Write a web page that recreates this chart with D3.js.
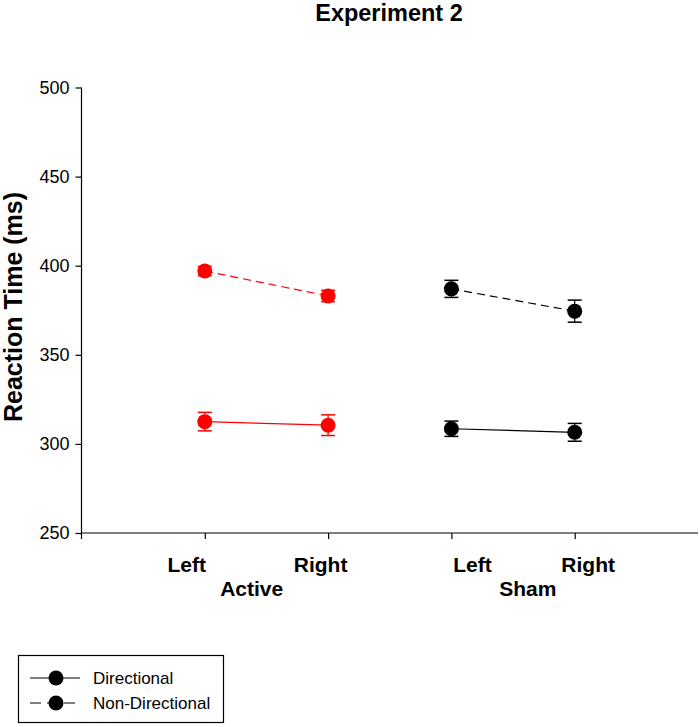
<!DOCTYPE html>
<html><head><meta charset="utf-8">
<script src="https://cdn.jsdelivr.net/npm/d3@7"></script>
<style>body{margin:0;background:#fff}</style>
</head><body>
<svg id="chart" width="700" height="727"></svg>
<script>
const conditions = ["Left", "Right", "Left", "Right"];
const groups = ["Active", "Sham"];
const xPositions = [1, 2, 3, 4];
const yTicks = [250, 300, 350, 400, 450, 500];
// Directional (solid) series
const activeDirectional = [312.5, 310.5];
const activeDirectionalErr = [5.2, 5.8];
const shamDirectional = [308.5, 306.5];
const shamDirectionalErr = [4.3, 5.0];
// Non-Directional (dashed) series
const activeNonDirectional = [397, 383];
const activeNonDirectionalErr = [2.6, 3.2];
const shamNonDirectional = [387, 374.5];
const shamNonDirectionalErr = [4.8, 6.2];

const series = [
  {x:[1,2], y:activeDirectional, e:activeDirectionalErr, color:"#ff0000", dash:null},
  {x:[1,2], y:activeNonDirectional, e:activeNonDirectionalErr, color:"#ff0000", dash:"8,5"},
  {x:[3,4], y:shamDirectional, e:shamDirectionalErr, color:"#000000", dash:null},
  {x:[3,4], y:shamNonDirectional, e:shamNonDirectionalErr, color:"#000000", dash:"8,5"}
];

const svg = d3.select("#chart");
const font = "Arial, 'Liberation Sans', sans-serif";
const x = d3.scaleLinear().domain([0,5]).range([81.5, 698]);
const y = d3.scaleLinear().domain([250,500]).range([533, 87.5]);

// y axis
const yAxis = svg.append("g").attr("transform","translate(81.5,0)")
  .call(d3.axisLeft(y).tickValues(yTicks).tickSize(6).tickPadding(6));
yAxis.select(".domain").attr("d", `M0,${y(500)}V${y(250)+6}`).attr("stroke","#000").attr("stroke-width",1.2);
yAxis.selectAll(".tick line").attr("stroke","#000").attr("stroke-width",1.2);
yAxis.selectAll("text").attr("font-family",font).attr("font-size",18).attr("fill","#000");

// x axis
const xAxis = svg.append("g").attr("transform",`translate(0,${y(250)})`)
  .call(d3.axisBottom(x).tickValues(xPositions).tickSize(6).tickFormat(""));
xAxis.select(".domain").attr("d", `M${x(0)},0H${x(5)}`).attr("stroke","#000").attr("stroke-width",1.2);
xAxis.selectAll(".tick line").attr("stroke","#000").attr("stroke-width",1.2);

// x category labels (offsets as in reference)
const labelOffsets = [-18, -7.5, 21, 13.5];
svg.append("g").selectAll("text").data(conditions).join("text")
  .attr("x",(d,i)=>x(xPositions[i])+labelOffsets[i]).attr("y",572)
  .attr("text-anchor","middle").attr("font-family",font).attr("font-weight","bold")
  .attr("font-size",21).attr("fill","#000").text(d=>d);
const groupCenters = [1.38, 3.62];
svg.append("g").selectAll("text").data(groups).join("text")
  .attr("x",(d,i)=>x(groupCenters[i])).attr("y",596)
  .attr("text-anchor","middle").attr("font-family",font).attr("font-weight","bold")
  .attr("font-size",21).attr("fill","#000").text(d=>d);

// title
svg.append("text").attr("x",389).attr("y",21).attr("text-anchor","middle")
  .attr("font-family",font).attr("font-weight","bold").attr("font-size",23.5).text("Experiment 2");

// y label
svg.append("text").attr("transform","translate(22,307) rotate(-90)").attr("text-anchor","middle")
  .attr("font-family",font).attr("font-weight","bold").attr("font-size",25).text("Reaction Time (ms)");

// series
const line = d3.line().x(d=>x(d[0])).y(d=>y(d[1]));
series.forEach(s=>{
  const pts = s.x.map((xv,i)=>[xv, s.y[i], s.e[i]]);
  const g = svg.append("g");
  g.append("path").datum(pts).attr("d",line).attr("fill","none")
    .attr("stroke",s.color).attr("stroke-width",1.2).attr("stroke-dasharray",s.dash);
  pts.forEach(p=>{
    const cx = x(p[0]);
    g.append("line").attr("x1",cx).attr("x2",cx).attr("y1",y(p[1]-p[2])).attr("y2",y(p[1]+p[2]))
      .attr("stroke",s.color).attr("stroke-width",1.2);
    [p[1]-p[2], p[1]+p[2]].forEach(v=>{
      g.append("line").attr("x1",cx-7).attr("x2",cx+7).attr("y1",y(v)).attr("y2",y(v))
        .attr("stroke",s.color).attr("stroke-width",1.5);
    });
    g.append("circle").attr("cx",cx).attr("cy",y(p[1])).attr("r",7.5).attr("fill",s.color);
  });
});

// legend
const leg = svg.append("g");
leg.append("rect").attr("x",18.5).attr("y",655.5).attr("width",205).attr("height",67)
  .attr("fill","#fff").attr("stroke","#000").attr("stroke-width",1.2);
const legItems = [{label:"Directional", dash:null, y:678},{label:"Non-Directional", dash:"11,6", y:703}];
legItems.forEach(it=>{
  leg.append("line").attr("x1",30).attr("x2",80).attr("y1",it.y).attr("y2",it.y)
    .attr("stroke","#000").attr("stroke-width",1.2).attr("stroke-dasharray",it.dash);
  leg.append("circle").attr("cx",56).attr("cy",it.y).attr("r",7.5).attr("fill","#000");
  leg.append("text").attr("x",93).attr("y",it.y+6).attr("font-family",font)
    .attr("font-size",17).attr("fill","#000").text(it.label);
});
</script>
</body></html>
